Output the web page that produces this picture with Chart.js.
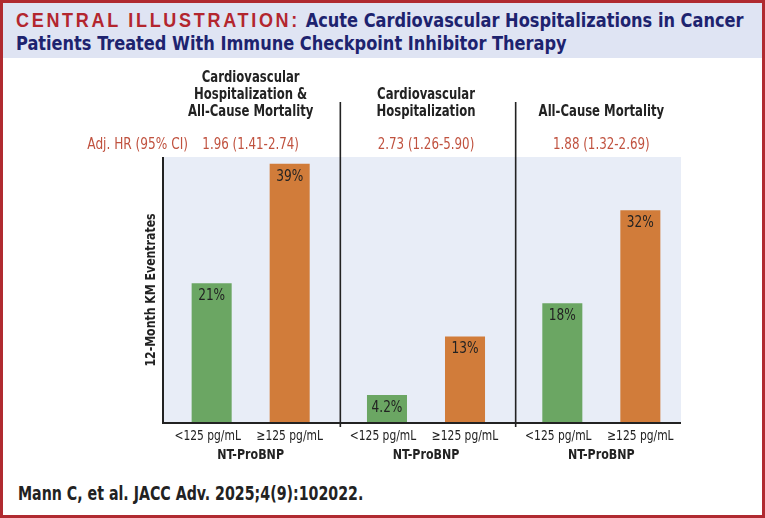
<!DOCTYPE html>
<html>
<head>
<meta charset="utf-8">
<script src="https://cdn.jsdelivr.net/npm/chart.js@4.4.1/dist/chart.umd.min.js"></script>
<style>
  html, body { margin: 0; padding: 0; background: #fff; }
  #frame {
    position: relative; width: 765px; height: 518px; box-sizing: border-box;
    border: 3px solid #b02a30; background: #fff; overflow: hidden;
  }
  #title {
    position: absolute; left: 0; top: 0; width: 759px; height: 55px;
    background: #dfe4f3;
  }
  #title .txt {
    position: absolute; left: 13px; top: 6px; white-space: nowrap;
    transform: scaleX(0.9); transform-origin: left top;
    font-family: 'DejaVu Sans Condensed', 'DejaVu Sans', sans-serif;
    font-weight: bold; font-size: 20px; line-height: 23px; color: #1d236f;
  }
  #title .lead {
    font-family: 'Liberation Sans', Arial, sans-serif; color: #b3262e;
    font-size: 20px; letter-spacing: 3px;
  }
  #chartBox { position: absolute; left: 0; top: 55px; width: 759px; height: 420px; }
  #footer {
    position: absolute; left: 15px; top: 479px; white-space: nowrap;
    transform: scaleX(0.83); transform-origin: left top;
    font-family: 'DejaVu Sans Condensed', 'DejaVu Sans', sans-serif;
    font-weight: bold; font-size: 19px; color: #222;
  }
</style>
</head>
<body>
<div id="frame">
  <div id="title"><div class="txt"><span class="lead">CENTRAL ILLUSTRATION:</span> Acute Cardiovascular Hospitalizations in Cancer<br>Patients Treated With Immune Checkpoint Inhibitor Therapy</div></div>
  <div id="chartBox"><canvas id="chart" width="759" height="420"></canvas></div>
  <div id="footer">Mann C, et al. JACC Adv. 2025;4(9):102022.</div>
</div>
<script>
// panels (one category each)
var panelTitles = [
    ["Cardiovascular", "Hospitalization &", "All-Cause Mortality"],
    ["Cardiovascular", "Hospitalization"],
    ["All-Cause Mortality"]
];
var hrLabel = "Adj. HR (95% CI)";
var hrValues = ["1.96 (1.41-2.74)", "2.73 (1.26-5.90)", "1.88 (1.32-2.69)"];
// NT-ProBNP groups
var groupNames = ["<125 pg/mL", "\u2265125 pg/mL"];
var groupAxisName = "NT-ProBNP";
// 12-month KM event rates, %
var lowRates = [21, 4.2, 18];
var highRates = [39, 13, 32];
var rateLabels = [["21%", "4.2%", "18%"], ["39%", "13%", "32%"]];
var yMax = 40;
var yTitle = "12-Month KM Eventrates";

var FONT = "'DejaVu Sans Condensed', 'DejaVu Sans', sans-serif";
var INK = "#222222";

// draw text squeezed horizontally (the original uses a condensed face)
function narrowText(ctx, text, x, y, sx) {
    ctx.save();
    ctx.translate(x, y);
    ctx.scale(sx, 1);
    ctx.fillText(text, 0, 0);
    ctx.restore();
}

var decorPlugin = {
    id: "decor",
    beforeDatasetsDraw: function (chart) {
        var ctx = chart.ctx;
        var a = chart.chartArea;
        ctx.save();
        ctx.fillStyle = "#e8edf7";
        ctx.fillRect(a.left, a.top, a.right - 8 - a.left, a.bottom - a.top);
        ctx.restore();
    },
    afterDatasetsDraw: function (chart) {
        var ctx = chart.ctx;
        var a = chart.chartArea;
        var x = chart.scales.x;
        var n = panelTitles.length;
        ctx.save();

        // axis lines
        ctx.strokeStyle = INK;
        ctx.lineWidth = 2;
        ctx.beginPath();
        ctx.moveTo(a.left, a.top);
        ctx.lineTo(a.left, a.bottom);
        ctx.lineTo(a.right - 8, a.bottom);
        ctx.stroke();

        // panel dividers
        ctx.lineWidth = 1.6;
        for (var i = 1; i < n; i++) {
            var dx = (x.getPixelForValue(i - 1) + x.getPixelForValue(i)) / 2 + 2;
            ctx.beginPath();
            ctx.moveTo(dx, 44);
            ctx.lineTo(dx, a.bottom + 4);
            ctx.stroke();
        }

        // panel titles, bottom aligned
        ctx.fillStyle = INK;
        ctx.textAlign = "center";
        ctx.textBaseline = "middle";
        ctx.font = "bold 16px " + FONT;
        for (var p = 0; p < n; p++) {
            var cx = x.getPixelForValue(p);
            var lines = panelTitles[p];
            for (var k = 0; k < lines.length; k++) {
                narrowText(ctx, lines[k], cx, 54 - (lines.length - 1 - k) * 17, 0.81);
            }
        }

        // hazard ratios
        ctx.fillStyle = "#c0523f";
        ctx.font = "15px " + FONT;
        for (var h = 0; h < n; h++) {
            narrowText(ctx, hrValues[h], x.getPixelForValue(h), 87, 0.88);
        }
        ctx.textAlign = "right";
        narrowText(ctx, hrLabel, a.left + 25, 87, 0.9);

        // bar value labels + group labels under the bars
        ctx.textAlign = "center";
        for (var d = 0; d < 2; d++) {
            var meta = chart.getDatasetMeta(d);
            meta.data.forEach(function (bar, j) {
                ctx.fillStyle = INK;
                ctx.font = "15px " + FONT;
                narrowText(ctx, rateLabels[d][j], bar.x, bar.y + 13, 0.9);
                ctx.font = "14px " + FONT;
                narrowText(ctx, groupNames[d], bar.x + (d === 0 ? -4 : 0), a.bottom + 13, 0.85);
            });
        }
        ctx.font = "bold 14px " + FONT;
        for (var g = 0; g < n; g++) {
            narrowText(ctx, groupAxisName, x.getPixelForValue(g), a.bottom + 32, 0.88);
        }

        // y axis title
        ctx.translate(a.left - 12, (a.top + a.bottom) / 2);
        ctx.rotate(-Math.PI / 2);
        ctx.font = "bold 14px " + FONT;
        narrowText(ctx, yTitle, 0, 0, 0.87);
        ctx.restore();
    }
};

var ctx = document.getElementById("chart").getContext("2d");
var chart = new Chart(ctx, {
    type: "bar",
    data: {
        labels: panelTitles.map(function (t) { return t.join(" "); }),
        datasets: [
            { label: groupNames[0], data: lowRates, backgroundColor: "#6ba663", borderWidth: 0 },
            { label: groupNames[1], data: highRates, backgroundColor: "#d17c3a", borderWidth: 0 }
        ]
    },
    options: {
        responsive: false,
        animation: false,
        layout: { padding: { left: 160, top: 99, right: 73, bottom: 55 } },
        datasets: { bar: { categoryPercentage: 0.89, barPercentage: 0.513 } },
        scales: {
            x: { display: false },
            y: { display: false, min: 0, max: yMax }
        },
        plugins: {
            legend: { display: false },
            tooltip: { enabled: false }
        }
    },
    plugins: [decorPlugin]
});
</script>
</body>
</html>
